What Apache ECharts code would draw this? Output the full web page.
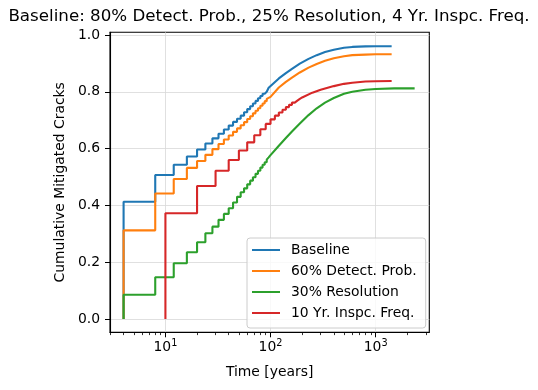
<!DOCTYPE html>
<html>
<head>
<meta charset="utf-8">
<script src="https://cdn.jsdelivr.net/npm/echarts@6/dist/echarts.min.js"></script>
<style>
html,body{margin:0;padding:0;background:#fff;}
#chart{width:538px;height:390px;}
</style>
</head>
<body>
<div id="chart"></div>
<script>
// ---- data ----
const seriesNames = ['Baseline', '60% Detect. Prob.', '30% Resolution', '10 Yr. Inspc. Freq.'];
const startLevel = 0;

const stepTimes4 = [4,8,12,16,20,24,28,32,36,40,44,48,52,56,60,64,68,72,76,80,84,88,92,96,100];
const stepTimes10 = [10,20,30,40,50,60,70,80,90,100,110,120,130,140,150,160,170,180,190,200];

const baselineStep = [0.413,0.507,0.543,0.572,0.597,0.618,0.636,0.652,0.667,0.681,0.694,0.705,0.716,0.728,0.739,0.749,0.759,0.768,0.777,0.785,0.793,0.800,0.807,0.814,0.821];
const baselineLateT = [120,140,160,190,230,275,330,400,500,600,800,1000,1420];
const baselineLateV = [0.847,0.866,0.881,0.899,0.916,0.929,0.940,0.948,0.955,0.958,0.960,0.9605,0.9605];

const detectStep = [0.312,0.442,0.493,0.532,0.556,0.578,0.598,0.616,0.632,0.646,0.659,0.671,0.682,0.693,0.704,0.714,0.724,0.733,0.742,0.751,0.759,0.767,0.775,0.782,0.789];
const detectLateT = [120,140,160,190,230,275,330,400,500,600,800,1000,1420];
const detectLateV = [0.815,0.835,0.850,0.868,0.885,0.898,0.909,0.918,0.925,0.929,0.931,0.932,0.932];

const resolStep = [0.085,0.147,0.196,0.235,0.270,0.302,0.325,0.349,0.370,0.390,0.410,0.430,0.446,0.460,0.474,0.487,0.499,0.511,0.522,0.533,0.543,0.552,0.561,0.569,0.577];
const resolLateT = [120,140,160,190,230,275,330,400,500,600,800,1000,1500,2350];
const resolLateV = [0.610,0.637,0.660,0.688,0.718,0.742,0.762,0.778,0.793,0.800,0.807,0.810,0.812,0.812];

const inspStep = [0.372,0.468,0.522,0.560,0.593,0.622,0.647,0.668,0.687,0.703,0.716,0.727,0.737,0.746,0.754,0.762,0.769,0.775,0.780,0.785];
const inspLateT = [250,300,400,500,600,800,1000,1420];
const inspLateV = [0.797,0.807,0.820,0.828,0.832,0.836,0.837,0.838];

const xMajorTicks = [10, 100, 1000];
const xMinorTicks = [3,4,5,6,7,8,9,20,30,40,50,60,70,80,90,200,300,400,500,600,700,800,900,2000,3000];
const yTicks = [0, 0.2, 0.4, 0.6, 0.8, 1.0];
const colors = ['#1f77b4', '#ff7f0e', '#2ca02c', '#d62728'];

// build step (post) polyline followed by a smooth tail
function buildLine(stepT, stepV, lateT, lateV) {
  const pts = [];
  let prev = startLevel;
  for (let i = 0; i < stepT.length; i++) {
    pts.push([stepT[i], prev]);
    pts.push([stepT[i], stepV[i]]);
    prev = stepV[i];
  }
  for (let i = 0; i < lateT.length; i++) pts.push([lateT[i], lateV[i]]);
  return pts;
}

const lines = [
  buildLine(stepTimes4, baselineStep, baselineLateT, baselineLateV),
  buildLine(stepTimes4, detectStep, detectLateT, detectLateV),
  buildLine(stepTimes4, resolStep, resolLateT, resolLateV),
  buildLine(stepTimes10, inspStep, inspLateT, inspLateV)
];

const FONT = 'DejaVu Sans';
const chart = echarts.init(document.getElementById('chart'), null, {renderer: 'canvas'});
const xMin = 2.97, xMax = 3240;

chart.setOption({
  animation: false,
  backgroundColor: '#fff',
  title: {
    text: 'Baseline: 80% Detect. Prob., 25% Resolution, 4 Yr. Inspc. Freq.',
    left: 'center', top: 8, padding: 0,
    textStyle: {fontFamily: FONT, fontSize: 16.7, fontWeight: 'normal', color: '#000'}
  },
  grid: {left: 110, top: 32.3, width: 319.3, height: 300, show: true, borderColor: '#000', borderWidth: 1.1, backgroundColor: 'transparent', containLabel: false, outerBoundsMode: 'none'},
  legend: {
    orient: 'vertical', left: 247, top: 238,
    padding: [5, 9, 8, 5], itemGap: 7,
    itemWidth: 28, itemHeight: 2, icon: 'rect',
    backgroundColor: 'rgba(255,255,255,0.8)', borderColor: '#cccccc', borderWidth: 1, borderRadius: 3,
    textStyle: {fontFamily: FONT, fontSize: 13.9, color: '#000', padding: [0,0,0,6]},
    data: seriesNames
  },
  xAxis: [{
    type: 'log', logBase: 10, min: xMin, max: xMax,
    name: 'Time [years]', nameLocation: 'middle', nameGap: 33,
    nameTextStyle: {fontFamily: FONT, fontSize: 13.9, color: '#000'},
    axisLine: {show: true, onZero: false, lineStyle: {color: '#000', width: 1.1}},
    axisTick: {show: true, length: 5, lineStyle: {color: '#000', width: 1}, customValues: xMajorTicks},
    axisLabel: {
      show: true, margin: 6, customValues: xMajorTicks,
      formatter: function (v) { return '{b|10}{s|' + Math.round(Math.log10(v)) + '}'; },
      rich: {
        b: {fontFamily: FONT, fontSize: 13.9, color: '#000'},
        s: {fontFamily: FONT, fontSize: 9.7, color: '#000', padding: [0,0,9,0]}
      }
    },
    splitLine: {show: true, lineStyle: {color: '#d8d8d8', width: 0.8}},
    minorTick: {show: false}
  }, {
    type: 'log', logBase: 10, min: xMin, max: xMax, gridIndex: 0, position: 'bottom',
    axisLine: {show: false, onZero: false},
    axisTick: {show: true, length: 2.8, lineStyle: {color: '#000', width: 0.8}, customValues: xMinorTicks},
    axisLabel: {show: false},
    splitLine: {show: false}
  }],
  yAxis: {
    type: 'value', min: -0.047, max: 1.0095,
    name: 'Cumulative Mitigated Cracks', nameLocation: 'middle', nameGap: 35,
    nameTextStyle: {fontFamily: FONT, fontSize: 13.9, color: '#000'},
    axisLine: {show: true, onZero: false, lineStyle: {color: '#000', width: 1.1}},
    axisTick: {show: true, length: 5, lineStyle: {color: '#000', width: 1}, customValues: yTicks},
    axisLabel: {
      show: true, margin: 10, customValues: yTicks,
      fontFamily: FONT, fontSize: 13.9, color: '#000',
      formatter: function (v) { return v.toFixed(1); }
    },
    splitLine: {show: true, lineStyle: {color: '#d8d8d8', width: 0.8}}
  },
  series: lines.map(function (d, i) {
    return {
      name: seriesNames[i], type: 'line', xAxisIndex: 0, yAxisIndex: 0,
      data: d, showSymbol: false, symbol: 'none',
      lineStyle: {color: colors[i], width: 2.1},
      itemStyle: {color: colors[i]},
      z: 2 + i
    };
  })
});
</script>
</body>
</html>
